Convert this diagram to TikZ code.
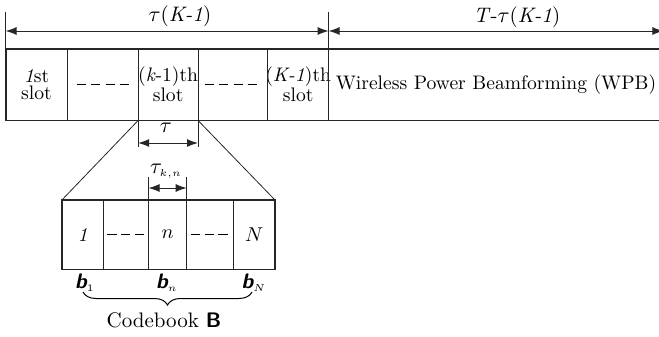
\documentclass[tikz,border=0pt]{standalone}
\usepackage{fontspec}
\usetikzlibrary{positioning, arrows.meta, decorations.pathreplacing}

\begin{document}
\begin{tikzpicture}[x=0.5pt, y=-0.5pt,
      % 1. Celdas de la trama (sin borde propio)
      cell/.style={
          rectangle,
          inner sep=0pt,
          align=center,
          font=\fontsize{9.8}{8.8}\selectfont
      },
      topcell/.style={cell, minimum height=35.5pt},
      subcell/.style={cell, minimum height=34.5pt},
      % 2. Lineas
      frame/.style={line width=0.9pt, black!85},
      divider/.style={line width=0.4pt, black!85},
      dashline/.style={line width=0.4pt, dash pattern=on 4.5pt off 2.7pt},
      subdash/.style={line width=0.4pt, dash pattern=on 4.6pt off 2.3pt},
      % 3. Flechas de cota
      dim/.style={line width=0.5pt, black!85, {Latex[length=5.5pt,width=4pt]}-{Latex[length=5.5pt,width=4pt]}},
      lbl/.style={inner sep=0pt, font=\fontsize{10.5}{11}\selectfont},
      brace/.style={decorate, decoration={brace, mirror, amplitude=6.5pt}, line width=0.5pt}
  ]
  \useasboundingbox (0,0) rectangle (659,337);

  % === TRAMA SUPERIOR ===
  \node[topcell, minimum width=30.5pt] (s1) at (36.5,84.5) {\textit{1}st\\slot};
  \node[topcell, minimum width=35pt, right=0pt of s1] (s2) {};
  \node[topcell, minimum width=29.5pt, right=0pt of s2] (s3) {\makebox[0pt]{(\textit{k}-1)th}\\slot};
  \node[topcell, minimum width=34.5pt, right=0pt of s3] (s4) {};
  \node[topcell, minimum width=30pt, right=0pt of s4] (s5) {\makebox[0pt]{(\textit{K-1})th}\\slot};
  \node[topcell, minimum width=167pt, right=0pt of s5] (wpb) {Wireless Power Beamforming (WPB)};

  % marco y divisiones
  \draw[frame] (wpb.north east) -- (s1.north west) -- (s1.south west) -- (wpb.south east);
  \foreach \c in {s1,s2,s3,s4,s5}
      \draw[divider] (\c.north east) -- (\c.south east);
  \draw[dashline] ([xshift=-13pt]s2.center) -- ([xshift=13pt]s2.center);
  \draw[dashline] ([xshift=-14pt]s4.center) -- ([xshift=12pt]s4.center);

  % === COTAS SUPERIORES ===
  \coordinate (lvl) at (0,31);
  \draw[divider] (s1.north west) -- ++(0,-37);
  \draw[divider] (s5.north east) -- ++(0,-37);
  \draw[dim] (s1.north west |- lvl) -- (s5.north east |- lvl);
  \draw[dim] (s5.north east |- lvl) -- (wpb.north east |- lvl);
  \node[lbl] (tK) at (180,16) {$\tau$(\textit{K-1})};
  \node[lbl] (tT) at (517,17) {\textit{T}-$\tau$(\textit{K-1})};

  % === TRAMA DEL SLOT ===
  \node[subcell, minimum width=20pt] (c1) at (82.7,234.5) {\textit{1}};
  \node[subcell, minimum width=22.3pt, right=0pt of c1] (c2) {};
  \node[subcell, minimum width=18.7pt, right=0pt of c2] (c3) {$n$};
  \node[subcell, minimum width=23.15pt, right=0pt of c3] (c4) {};
  \node[subcell, minimum width=20pt, right=0pt of c4] (c5) {$N$};

  \draw[frame] (c1.north west) rectangle (c5.south east);
  \foreach \c in {c1,c2,c3,c4}
      \draw[divider] (\c.north east) -- (\c.south east);
  \draw[subdash] ([xshift=-9.25pt]c2.center) -- ([xshift=9.25pt]c2.center);
  \draw[subdash] ([xshift=-9.75pt]c4.center) -- ([xshift=9.25pt]c4.center);

  % lineas de ampliacion
  \draw[divider] (s3.south west) -- (c1.north west);
  \draw[divider] (s3.south east) -- (c5.north east);

  % === COTAS DEL SLOT ===
  \coordinate (lvlA) at (0,143);
  \draw[divider] (s3.south west) -- ++(0,27);
  \draw[divider] (s3.south east) -- ++(0,27);
  \draw[dim] (s3.south west |- lvlA) -- (s3.south east |- lvlA);
  \node[lbl] (tau) at (166,128) {$\tau$};

  \coordinate (lvlB) at (0,188);
  \draw[divider] (c3.north west) -- ++(0,-23);
  \draw[divider] (c3.north east) -- ++(0,-23);
  \draw[dim] (c3.north west |- lvlB) -- (c3.north east |- lvlB);
  \node[lbl] (taukn) at (166,171) {$\tau_{\scriptscriptstyle k,n}$};

  % === CODEBOOK ===
  \node[lbl] (b1) at (85,283) {{\sffamily\bfseries\itshape b}$_{\scriptscriptstyle 1}$};
  \node[lbl] (bn) at (167,283) {{\sffamily\bfseries\itshape b}$_{\scriptscriptstyle n}$};
  \node[lbl] (bN) at (254,283) {{\sffamily\bfseries\itshape b}$_{\scriptscriptstyle N}$};
  \coordinate (brL) at (83,292);
  \coordinate (brR) at (252,292);
  \draw[brace] (brL) -- (brR);
  \node[lbl] (cb) at (164,320) {Codebook \textsf{\textbf{B}}};

\end{tikzpicture}
\end{document}
